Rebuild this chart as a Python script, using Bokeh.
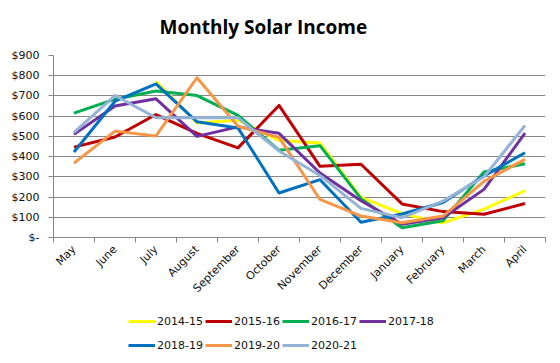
import math
from bokeh.plotting import figure
from bokeh.layouts import column
from bokeh.models import Range1d, FixedTicker, CustomJSTickFormatter, Legend, LegendItem, Label
from bokeh.embed import file_html
from bokeh.resources import INLINE

months = ["May", "June", "July", "August", "September", "October",
          "November", "December", "January", "February", "March", "April"]
seasons = ["2014-15", "2015-16", "2016-17", "2017-18", "2018-19", "2019-20", "2020-21"]
colors = ["#FFFF00", "#C00000", "#00B050", "#7030A0", "#0070C0", "#F79646", "#95B3D7"]

nan = float("nan")
s_2014_15 = [nan, nan, 773, 566, 580, 480, 467, 198, 118, 72, 140, 232]
s_2015_16 = [447, 497, 608, 515, 443, 653, 352, 362, 166, 128, 115, 168]
s_2016_17 = [615, 684, 724, 702, 604, 431, 454, 192, 48, 83, 324, 365]
s_2017_18 = [510, 650, 686, 500, 547, 515, 319, 182, 66, 98, 238, 516]
s_2018_19 = [423, 674, 760, 572, 542, 220, 286, 75, 116, 173, 305, 419]
s_2019_20 = [368, 526, 502, 790, 550, 495, 188, 106, 73, 106, 278, 386]
s_2020_21 = [520, 702, 592, 592, 592, 428, 307, 144, 98, 180, 300, 554]
series = [s_2014_15, s_2015_16, s_2016_17, s_2017_18, s_2018_19, s_2019_20, s_2020_21]

y_ticks = [0, 100, 200, 300, 400, 500, 600, 700, 800, 900]
title_text = "Monthly Solar Income"

W = 560
H_TITLE, H_CHART, H_LEG = 45, 260, 58
FRAME_L, FRAME_R = 53, 545  # frames of the stacked figures are aligned to the chart

xs = [i + 0.5 for i in range(len(months))]
grey = "#868686"


def bare(height, y0=0):
    f = figure(width=W, height=height, output_backend="svg", toolbar_location=None,
               title=None,
               x_range=Range1d(FRAME_L, FRAME_R), y_range=Range1d(y0, y0 + height),
               x_axis_location=None, y_axis_location=None,
               min_border=0, min_border_left=FRAME_L, min_border_right=W - FRAME_R,
               min_border_top=0, min_border_bottom=0,
               background_fill_color="white", border_fill_color="white")
    f.outline_line_color = None
    f.xgrid.visible = False
    f.ygrid.visible = False
    return f


# ---- title strip
t = bare(H_TITLE)
t.add_layout(Label(x=159, y=H_TITLE - 26, text=title_text, text_font="Open Sans",
                   text_font_style="bold", text_font_size="19px", text_color="#000000",
                   text_align="left", text_baseline="alphabetic"))

# ---- chart
p = figure(width=W, height=H_CHART, output_backend="svg", toolbar_location=None,
           x_range=Range1d(0, len(months)), y_range=Range1d(0, 900),
           min_border_left=FRAME_L, min_border_right=W - FRAME_R,
           min_border_top=55 - H_TITLE, min_border_bottom=H_TITLE + H_CHART - 237,
           background_fill_color="white", border_fill_color="white")
p.outline_line_color = None

xa = p.xaxis[0]
xa.ticker = FixedTicker(ticks=xs, minor_ticks=list(range(len(months) + 1)))
xa.major_label_overrides = {x: m for x, m in zip(xs, months)}
xa.major_label_orientation = math.pi / 4
xa.major_tick_out = 0
xa.major_tick_in = 0
xa.minor_tick_out = 5
xa.minor_tick_in = 0
xa.minor_tick_line_color = grey
xa.axis_line_color = grey
xa.major_label_text_font = "DejaVu Sans"
xa.major_label_text_font_size = "11px"
xa.major_label_text_color = "#111111"
xa.major_label_standoff = 5
p.xgrid.visible = False

ya = p.yaxis[0]
ya.ticker = FixedTicker(ticks=y_ticks, minor_ticks=[])
ya.formatter = CustomJSTickFormatter(code="return tick == 0 ? '$-' : '$' + tick.toFixed(0);")
ya.major_tick_out = 5
ya.major_tick_in = 0
ya.major_tick_line_color = grey
ya.minor_tick_line_color = None
ya.axis_line_color = grey
ya.major_label_text_font = "DejaVu Sans"
ya.major_label_text_font_size = "11px"
ya.major_label_text_color = "#111111"
ya.major_label_standoff = 9
p.ygrid.grid_line_color = grey
p.ygrid.grid_line_width = 1

for name, vals, c in zip(seasons, series, colors):
    p.line(xs, vals, line_width=3, line_color=c, line_join="round")

# ---- legend strip (its own lines lie outside its view; only the key is shown)
lf = bare(H_LEG, y0=100000)
items = []
for name, vals, c in zip(seasons, series, colors):
    r = lf.line(xs, vals, line_width=3, line_color=c)
    items.append(LegendItem(label=name, renderers=[r]))
legend = Legend(items=items, location=(128 - FRAME_L, 7), orientation="horizontal", ncols=4,
                spacing=2, padding=0, margin=0, glyph_width=27, glyph_height=22,
                label_height=22, label_standoff=2, border_line_alpha=0,
                background_fill_alpha=0, label_text_font="DejaVu Sans",
                label_text_font_size="11px", label_text_color="#111111")
lf.add_layout(legend)

layout = column(t, p, lf, spacing=0)
open("out.html", "w").write(file_html(layout, INLINE))
